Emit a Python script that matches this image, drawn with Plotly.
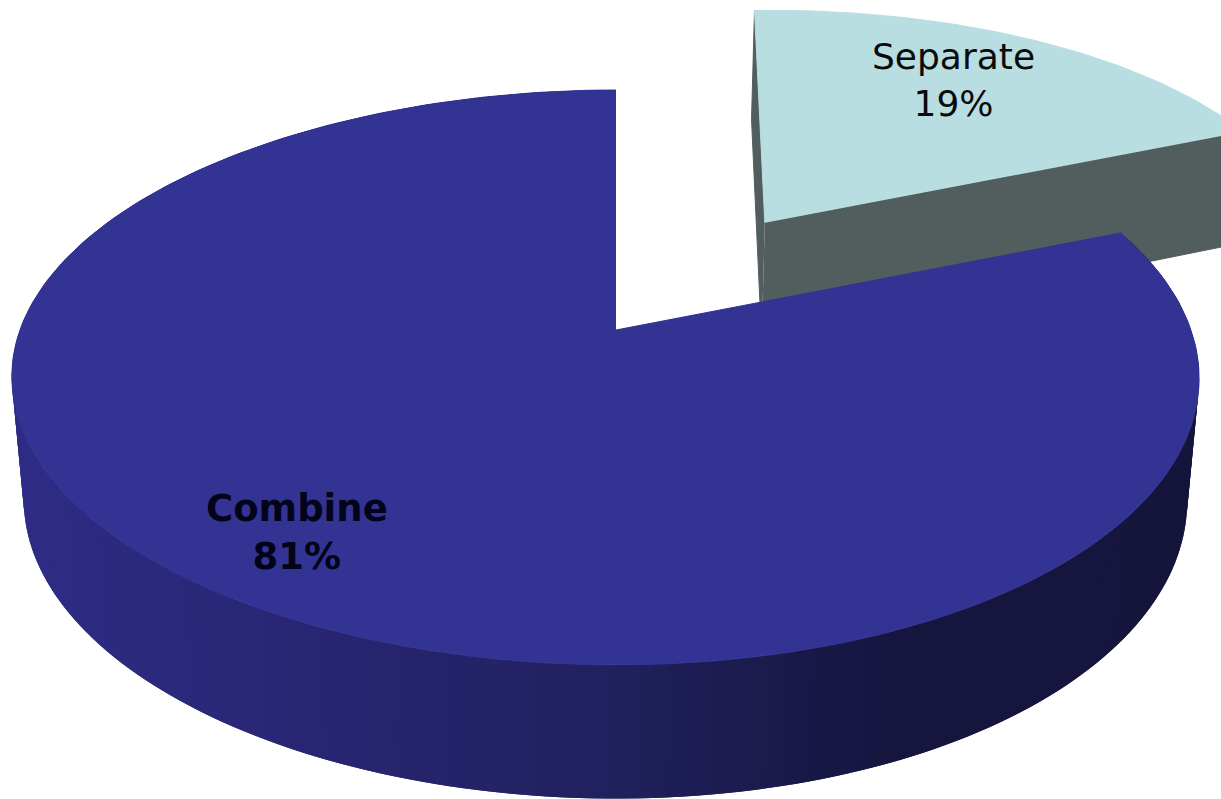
import numpy as np
import plotly.graph_objects as go

categories = ["Separate", "Combine"]
values = [19, 81]
top_colors = ["#B8DEE2", "#333393"]
edge_color_separate = "#525E5E"
shade_stops_x = [30, 300, 600, 900, 1190]
shade_stops_rgb = [(46, 44, 133), (40, 38, 115), (33, 33, 95), (21, 21, 62), (21, 21, 60)]

W, H = 1221, 799
X0, Y0, RX, RY, K = 616.0, 330.0, 585.5, 279.6, 0.165
EXPLODE = 0.495


def project(u, v):
    u, v = np.asarray(u, float), np.asarray(v, float)
    w = 1 - K * v
    return X0 + RX * u * (1 - 0.018 * u) / w, Y0 + RY * v / w


def lower(x, y):
    return 605.5 + (x - 605.5) * 0.98, 1.038 * y + 108.5


def rim(a0, a1, n, du=0.0, dv=0.0):
    t = np.radians(np.linspace(a0, a1, n))
    return np.sin(t) + du, -np.cos(t) + dv


def poly(x, y, color, lw=1):
    return go.Scatter(x=np.asarray(x), y=np.asarray(y), mode="lines", fill="toself",
                      fillcolor=color, line=dict(color=color, width=lw),
                      hoverinfo="skip", showlegend=False)


def shade(x):
    c = [np.interp(x, shade_stops_x, [s[i] for s in shade_stops_rgb]) for i in range(3)]
    return "rgb(%d,%d,%d)" % tuple(int(round(v)) for v in c)


fig = go.Figure()
sep_angle = values[0] / sum(values) * 360

# exploded slice
mid = np.radians(sep_angle / 2)
du, dv = EXPLODE * np.sin(mid), -EXPLODE * np.cos(mid)
ru, rv = rim(0, sep_angle, 60, du, dv)
su = np.concatenate([[du], du + (ru - du) * 1.03])
sv = np.concatenate([[dv], rv])
sx, sy = project(su, sv)
sx = sx - 10 * (sv - dv) - 3
sy = sy - 0.012 * (sx - sx[0])
lx, ly = lower(sx, sy)
# inner cut faces
fig.add_trace(poly([sx[0], sx[-1], lx[-1], lx[0]], [sy[0], sy[-1], ly[-1], ly[0]], edge_color_separate))
fig.add_trace(poly([sx[0], sx[1], lx[1], lx[0]], [sy[0], sy[1], ly[1], ly[0]], edge_color_separate))
fig.add_trace(poly(sx, sy, top_colors[0]))

# main body outer wall
bu, bv = rim(sep_angle, 360, 240)
bx, by = project(bu, bv)
blx, bly = lower(bx, by)
for i in range(len(bx) - 1):
    j = min(i + 2, len(bx) - 1)
    fig.add_trace(poly([bx[i], bx[j], blx[j], blx[i]],
                       [by[i], by[j], bly[j], bly[i]],
                       shade((blx[i] + blx[i + 1]) / 2), lw=0))
fig.add_trace(poly(np.concatenate([[X0], bx]), np.concatenate([[Y0], by]), top_colors[1]))

label_pos = [(953, 80), (297, 532)]
fig.add_annotation(x=label_pos[0][0], y=label_pos[0][1], text=f"{categories[0]}<br>{values[0]}%",
                   showarrow=False, font=dict(family="DejaVu Sans", size=36, color="#0a0a0a"))
fig.add_annotation(x=label_pos[1][0], y=label_pos[1][1], text=f"<b>{categories[1]}</b><br><b>{values[1]}%</b>",
                   showarrow=False, font=dict(family="DejaVu Sans", size=37, color="#03031a"))

fig.update_layout(width=W, height=H, margin=dict(l=0, r=0, t=0, b=0),
                  paper_bgcolor="white", plot_bgcolor="white", showlegend=False,
                  xaxis=dict(range=[0, W], visible=False, fixedrange=True),
                  yaxis=dict(range=[H, 0], visible=False, fixedrange=True))
fig.write_html("out.html", config={"displayModeBar": False},
               post_script="document.body.style.margin='0';")
